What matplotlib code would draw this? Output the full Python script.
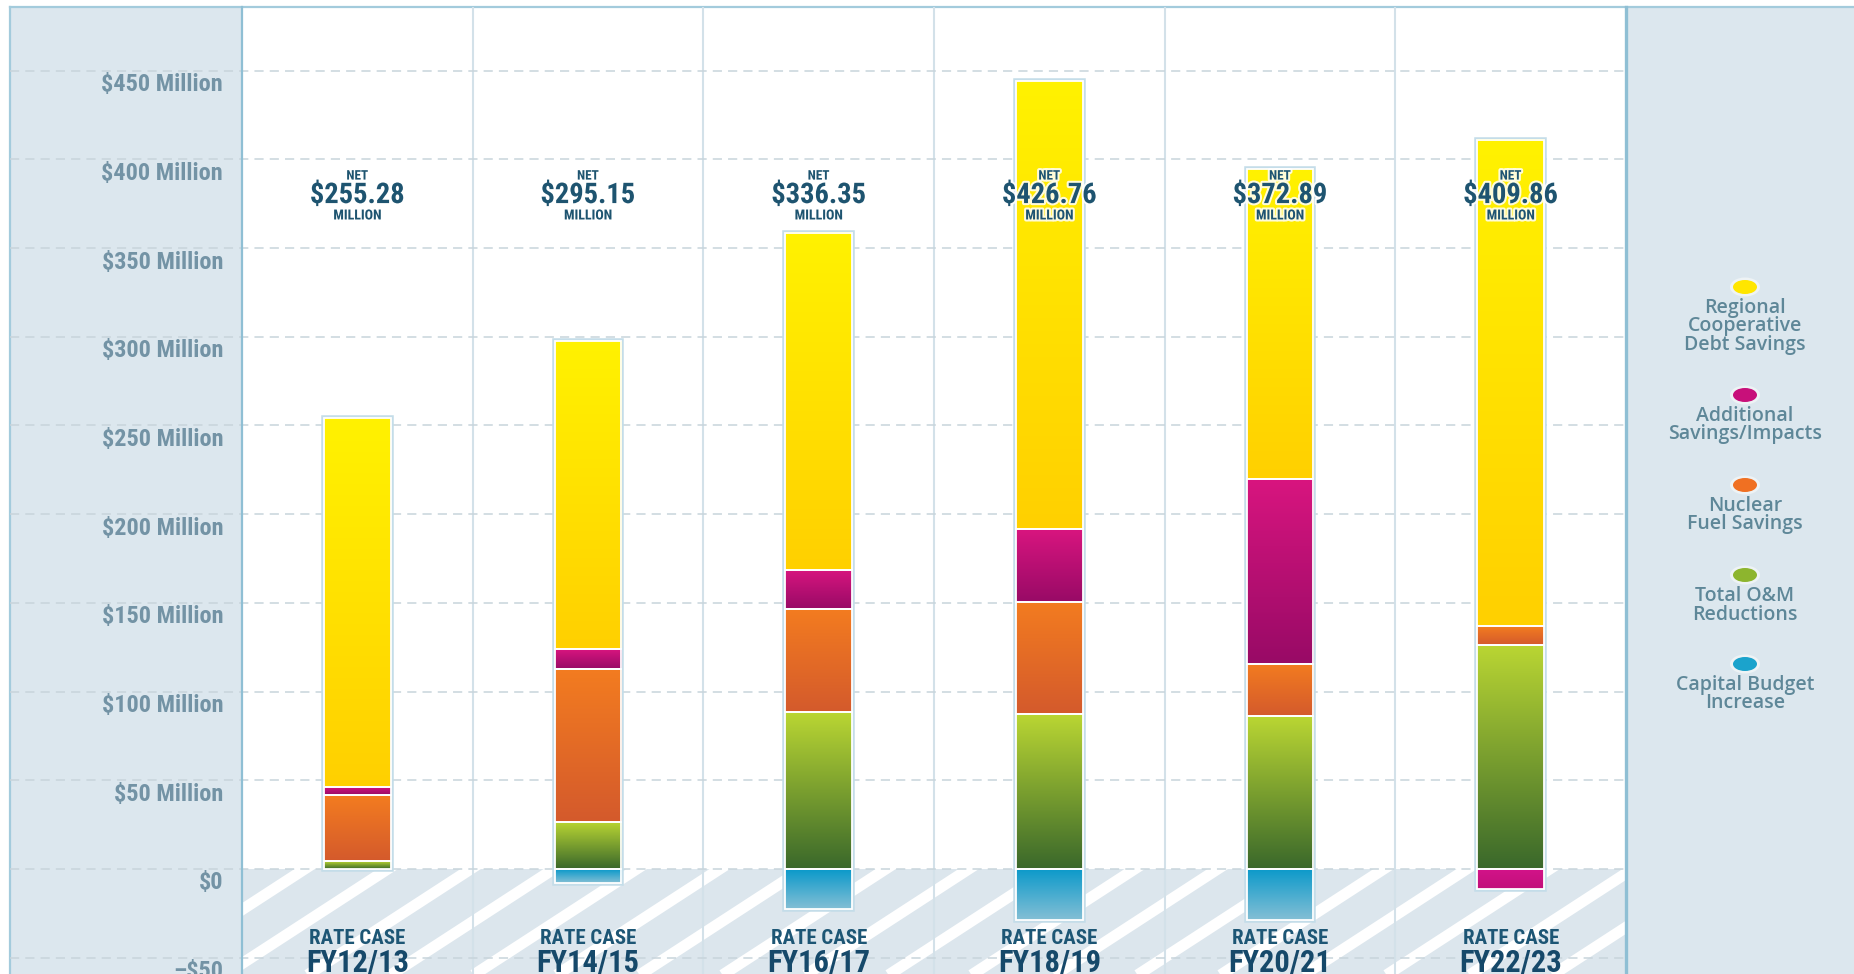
import numpy as np
import matplotlib
matplotlib.use('Agg')
import matplotlib.pyplot as plt
from matplotlib import transforms
from matplotlib.patches import Rectangle, Ellipse
import matplotlib.patheffects as pe
from matplotlib.colors import to_rgb
import logging
logging.getLogger('matplotlib.font_manager').setLevel(logging.ERROR)

# ---------------- data ----------------
categories = ['FY12/13', 'FY14/15', 'FY16/17', 'FY18/19', 'FY20/21', 'FY22/23']
net_values = [255.28, 295.15, 336.35, 426.76, 372.89, 409.86]
capital_budget = [0.0, -7.8, -22.5, -28.8, -28.8, 0.0]
om_reductions = [4.5, 26.5, 88.3, 87.2, 86.2, 126.5]
nuclear_fuel = [37.0, 86.3, 58.0, 63.3, 29.6, 10.5]
additional = [4.7, 11.2, 22.2, 41.0, 104.2, -11.5]
regional_debt = [208.0, 173.5, 190.0, 252.5, 174.5, 274.0]

y_ticks = [-50, 0, 50, 100, 150, 200, 250, 300, 350, 400, 450]
y_tick_labels = ['–$50', '$0', '$50 Million', '$100 Million', '$150 Million',
                 '$200 Million', '$250 Million', '$300 Million', '$350 Million',
                 '$400 Million', '$450 Million']

legend_lines = [['Regional', 'Cooperative', 'Debt Savings'],
                ['Additional', 'Savings/Impacts'],
                ['Nuclear', 'Fuel Savings'],
                ['Total O&M', 'Reductions'],
                ['Capital Budget', 'Increase']]
legend_colors = ['#FFE600', '#C8107A', '#F07022', '#8DB52E', '#1BA3CC']

# gradient colours (top, bottom)
grad_regional = ('#FFF200', '#FFD000')
grad_additional = ('#D8157F', '#980A66')
grad_additional_neg = ('#D3138A', '#C2107A')
grad_nuclear = ('#F37C20', '#D45A2C')
grad_om = ('#BAD633', '#3A682B')
grad_capital = ('#0A99CA', '#84BFD5')

COND = ['Roboto Condensed', 'DejaVu Sans Condensed', 'Liberation Sans Narrow', 'Roboto', 'DejaVu Sans']
LEG = ['Open Sans', 'DejaVu Sans']

# ---------------- figure ----------------
W, H = 1854, 974
fig = plt.figure(figsize=(W / 100, H / 100), dpi=100)

bg = fig.add_axes([0, 0, 1, 1], zorder=0)
bg.set_xlim(0, W)
bg.set_ylim(H, 0)
bg.axis('off')
panel = '#DCE7EE'
bg.add_patch(Rectangle((10, 7), 232, H, color=panel, lw=0))
bg.add_patch(Rectangle((1626, 7), W - 1626, H, color=panel, lw=0))
bg.add_patch(Rectangle((242, 7), 1384, H, color='white', lw=0))
bg.plot([10, W], [7, 7], color='#A3CBDC', lw=1.6)
bg.plot([10, 10], [7, H], color='#A3CBDC', lw=1.6)

ymin, ymax = -59.2, 485.9
ax = fig.add_axes([242 / W, 0, 1384 / W, (H - 7) / H], zorder=1)
ax.patch.set_alpha(0)
ax.set_xlim(-0.5, 5.5)
ax.set_ylim(ymin, ymax)
ax.set_xticks([])
ax.set_yticks([])
ax.spines['bottom'].set_visible(False)
ax.spines['top'].set_visible(False)
for s in ['left', 'right']:
    ax.spines[s].set_color('#8FBFD4')
ax.spines['left'].set_linewidth(1.6)
ax.spines['right'].set_linewidth(2.4)

# hatched negative region
hrect = Rectangle((-0.5, ymin), 6, -ymin, facecolor='#DCE6ED', edgecolor='none', zorder=0.2)
ax.add_patch(hrect)
px_x = 1384 / 6
px_y = (H - 7) / (ymax - ymin)
ang = np.deg2rad(33)
span = (-ymin + 20)
dx = (span * px_y / np.tan(ang)) / px_x
period = 83 / px_x
for k in range(-8, 24):
    x0 = -0.5 + k * period - dx * 0.2
    ax.plot([x0, x0 + dx], [ymin - 10, 10], color='white', lw=8,
            solid_capstyle='butt', zorder=0.3, clip_path=hrect)

# vertical separators
for b in np.arange(0.5, len(categories) - 0.5, 1.0):
    ax.axvline(b, color='#D3E1E9', lw=1.5, zorder=0.4)

# gridlines across left panel and plot
gtrans = transforms.blended_transform_factory(fig.transFigure, ax.transData)
for v in y_ticks:
    ax.plot([10 / W, 1626 / W], [v, v], transform=gtrans, ls=(0, (6, 4)),
            color='#C8D4DB', lw=1.1, zorder=0.5, clip_on=False)

# y tick labels
ltrans = transforms.offset_copy(gtrans, fig=fig, x=0, y=-14, units='dots')
for v, lab in zip(y_ticks, y_tick_labels):
    ax.text(223 / W, v, lab, transform=ltrans, ha='right', va='center',
            fontsize=17.5, fontweight='bold', fontstretch='condensed',
            color='#7393A5', family=COND, clip_on=False)

# ---------------- bars ----------------
x = np.arange(len(categories))
width = 0.29
series = [(capital_budget, grad_capital),
          (om_reductions, grad_om),
          (nuclear_fuel, grad_nuclear),
          (additional, grad_additional),
          (regional_debt, grad_regional)]
pos_b = np.zeros(len(categories))
neg_b = np.zeros(len(categories))

pos_tot = np.sum([np.clip(s[0], 0, None) for s in series], axis=0)
neg_tot = np.sum([np.clip(s[0], None, 0) for s in series], axis=0)
ax.bar(x, pos_tot - neg_tot, width, bottom=neg_tot, facecolor='none',
       edgecolor='#C4DDE9', lw=4, zorder=2.5)


def grad_img(c_top, c_bot, n=120):
    t = np.linspace(0, 1, n)[:, None]
    a = np.array(to_rgb(c_top))
    b = np.array(to_rgb(c_bot))
    return (a * (1 - t) + b * t)[:, None, :]


for vals, grad in series:
    vals = np.array(vals, dtype=float)
    bottoms = np.where(vals >= 0, pos_b, neg_b)
    bars = ax.bar(x, vals, width, bottom=bottoms, facecolor='none',
                  edgecolor='white', lw=1.3, zorder=4)
    for r, v in zip(bars, vals):
        if v == 0:
            r.set_visible(False)
            continue
        l = r.get_x()
        w_ = r.get_width()
        y0 = r.get_y()
        y1 = y0 + r.get_height()
        lo, hi = min(y0, y1), max(y0, y1)
        g = grad
        if v < 0 and grad is grad_additional:
            g = grad_additional_neg
        ax.imshow(grad_img(*g), extent=[l, l + w_, lo, hi], origin='upper',
                  aspect='auto', zorder=3, interpolation='bilinear')
    pos_b = pos_b + np.clip(vals, 0, None)
    neg_b = neg_b + np.clip(vals, None, 0)

ax.set_xlim(-0.5, 5.5)
ax.set_ylim(ymin, ymax)

# net labels
halo = [pe.withStroke(linewidth=3, foreground='white', alpha=0.85)]
for i, nv in enumerate(net_values):
    ax.text(i, 390.6, 'NET', ha='center', va='center', fontsize=9.5,
            fontweight='bold', fontstretch='condensed', color='#1E5470',
            family=COND, zorder=6, path_effects=halo)
    ax.text(i, 379.6, f'${nv:.2f}', ha='center', va='center', fontsize=20.5,
            fontweight='bold', fontstretch='condensed', color='#1E5470',
            family=COND, zorder=6, path_effects=halo)
    ax.text(i, 368.4, 'MILLION', ha='center', va='center', fontsize=10,
            fontweight='bold', fontstretch='condensed', color='#1E5470',
            family=COND, zorder=6, path_effects=halo)

# category labels
for i, c in enumerate(categories):
    ax.text(i, -39.2, 'RATE CASE', ha='center', va='center', fontsize=15,
            fontweight='bold', fontstretch='condensed', color='#1D5675',
            family=COND, zorder=6, clip_on=False)
    ax.text(i, -52.8, c, ha='center', va='center', fontsize=22,
            fontweight='bold', fontstretch='condensed', color='#16496A',
            family=COND, zorder=6, clip_on=False)

# ---------------- legend (right panel) ----------------
leg_x = 1745
leg_y = [287, 395, 485, 575, 664]
for yy, lines, col in zip(leg_y, legend_lines, legend_colors):
    bg.add_patch(Ellipse((leg_x, yy), 30, 19, facecolor='#EEF3F5', edgecolor='none', zorder=2))
    bg.add_patch(Ellipse((leg_x, yy), 24, 14, facecolor=col, edgecolor='none', zorder=3))
    for j, t in enumerate(lines):
        bg.text(leg_x, yy + 21 + j * 18.5, t, ha='center', va='center',
                fontsize=14, fontweight='semibold', color='#5E8798', family=LEG)

fig.savefig('out.png', dpi=100)
